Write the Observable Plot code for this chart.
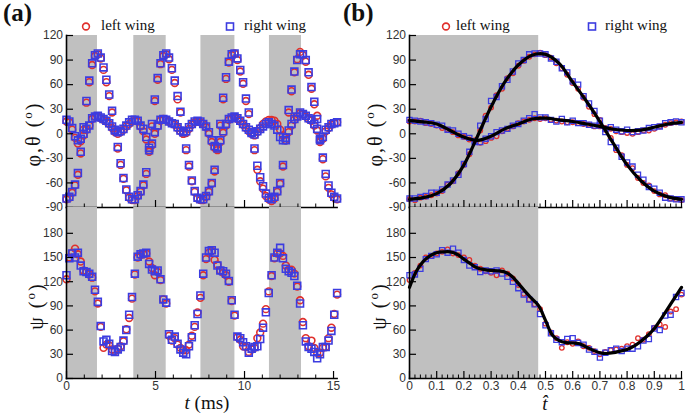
<!DOCTYPE html>
<html><head><meta charset="utf-8">
<script src="https://cdn.jsdelivr.net/npm/d3@7"></script>
<script src="https://cdn.jsdelivr.net/npm/@observablehq/plot@0.6"></script>
<style>
html,body{margin:0;padding:0;background:#fff;}
#fig{position:relative;width:685px;height:414px;overflow:hidden;font-family:"Liberation Serif","Times New Roman",serif;color:#111;}
.rot{position:absolute;white-space:nowrap;transform:translate(-50%,-50%) rotate(-90deg);font-size:20px;letter-spacing:2px;line-height:1;}
.lab{position:absolute;white-space:nowrap;transform:translate(-50%,-50%);font-size:19px;line-height:1;}
.pl{position:absolute;font-weight:bold;font-size:25px;}
.lg{position:absolute;font-size:15px;white-space:nowrap;}
sup{font-size:0.65em;}
</style></head><body><div id="fig"></div>
<script>
// ---------- data: panel (a), time in ms ----------
const tL = [0,0.16,0.32,0.48,0.64,0.8,0.96,1.12,1.28,1.44,1.6,1.76,1.92,2.08,2.24,2.4,2.56,2.72,2.88,3.04,3.2,3.36,3.52,3.68,
 3.84,4,4.16,4.32,4.48,4.64,4.8,4.96,5.12,5.28,5.44,5.6,5.76,5.92,6.08,6.24,6.4,6.56,6.72,6.88,7.04,7.2,7.36,7.52,
 7.68,7.84,8,8.16,8.32,8.48,8.64,8.8,8.96,9.12,9.28,9.44,9.6,9.76,9.92,10.08,10.24,10.4,10.56,10.72,10.88,11.04,11.2,11.36,
 11.52,11.68,11.84,12,12.16,12.32,12.48,12.64,12.8,12.96,13.12,13.28,13.44,13.6,13.76,13.92,14.08,14.24,14.4,14.56,14.72,14.88,15.04,15.2];
const phiLeftA = [-80,-78,-72,-63,-50,-24,5,38,63,84,95,97,92,78,63,46,26,3,-18,-38,-55,-69,-78,-81,
 -81,-76,-71,-63,-49,-22,9,40,66,85,95,97,91,78,62,42,26,0,-20,-40,-58,-71,-79,-81,
 -81,-77,-71,-61,-46,-20,10,42,67,87,96,98,90,76,61,40,24,0,-20,-44,-58,-67,-76,-80,
 -82,-79,-71,-61,-40,-8,26,52,75,91,100,96,88,72,55,36,22,-8,-31,-52,-66,-74,-78,-80];
const phiRightA = [-79,-77,-71,-62,-48,-22,8,40,65,86,96,98,93,81,66,48,28,5,-16,-36,-54,-68,-77,-80,
 -80,-75,-70,-62,-47,-20,12,42,68,86,96,98,93,80,65,46,27,3,-18,-38,-57,-70,-78,-80,
 -80,-76,-70,-60,-44,-18,12,44,69,88,97,98,92,78,63,43,26,2,-18,-39,-53,-64,-73,-78,
 -80,-77,-70,-60,-38,-5,29,54,76,90,97,97,90,75,57,39,18,-6,-29,-49,-63,-72,-77,-79];
const thetaLeftA = [15,14,5,-5,-12,-9,-2,5,10,18,21,21,19,17,15,12,7,2,0,2,5,9,12,15,
 16,15,9,3,-7,-20,-14,0,9,16,18,17,15,13,11,7,3,0,1,6,11,14,15,14,
 12,8,0,-10,-17,-18,-10,1,10,17,19,20,18,15,11,7,3,0,-2,2,7,12,15,17,
 17,16,12,5,-2,-8,2,10,17,21,25,24,21,18,16,10,4,-10,-6,3,7,11,13,14];
const thetaRightA = [17,15,7,-3,-8,-6,0,6,10,19,21,22,20,18,16,13,9,4,2,3,6,10,14,17,
 17,16,10,6,-4,-17,-12,2,10,17,18,17,15,13,12,8,4,2,3,8,12,15,16,15,
 12,9,2,-8,-15,-16,-8,3,12,18,20,21,19,16,12,8,5,1,-1,3,6,9,12,14,
 12,10,5,-4,-8,-8,4,12,18,21,26,24,22,19,17,12,6,-8,-4,5,8,12,13,14];
const psiLeftA = [123,150,156,161,154,145,134,132,129,125,108,93,64,38,42,41,36,34,37,40,46,61,75,99,
 129,150,153,154,155,145,137,128,132,122,98,93,53,47,50,42,38,35,35,42,53,64,82,100,
 128,148,156,158,147,141,134,131,128,120,96,78,51,48,40,39,33,36,38,50,57,68,86,108,
 127,149,155,155,152,140,135,135,130,114,97,70,50,40,47,38,32,32,38,39,50,63,80,104];
const psiRightA = [128,149,155,150,156,140,133,132,130,126,110,95,65,46,48,43,34,33,36,39,47,60,79,101,
 130,151,154,155,156,142,135,133,134,123,98,94,55,48,52,43,36,32,30,40,51,66,80,103,
 130,150,158,159,156,140,134,133,130,121,97,79,52,50,45,40,32,37,39,40,49,63,82,106,
 128,150,156,162,149,136,133,131,127,115,93,66,46,39,37,33,25,30,39,39,47,59,79,106];
const bandStartA = [0,3.78,7.55,11.4];
const bandEndA = [1.74,5.6,9.46,13.2];
const xTicksA = [0,5,10,15];
const xMinorA = [1,2,3,4,6,7,8,9,11,12,13,14];

// ---------- data: panel (b), normalized time ----------
const tB = [0,0.02,0.04,0.06,0.08,0.1,0.12,0.14,0.16,0.18,0.2,0.22,0.24,0.26,0.28,0.3,0.32,0.34,0.36,0.38,0.4,0.42,0.44,0.46,0.48,0.5,
 0.52,0.54,0.56,0.58,0.6,0.62,0.64,0.66,0.68,0.7,0.72,0.74,0.76,0.78,0.8,0.82,0.84,0.86,0.88,0.9,0.92,0.94,0.96,0.98,1];
const phiLeftB = [-80,-81,-78,-77,-75,-73,-70,-62,-58,-48,-38,-25,-8,4,22,32,47,55,68,74,83,89,94,97,99,96,93,86,80,72,62,55,44,33,24,17,5,-5,-20,-26,-38,-42,-54,-60,-63,-70,-74,-75,-79,-80,-81];
const phiRightB = [-79,-79,-77,-76,-72,-72,-68,-62,-57,-50,-37,-22,-10,10,18,40,45,58,66,76,86,90,97,98,98,97,92,88,80,75,64,60,46,37,28,16,2,-10,-17,-28,-35,-40,-50,-56,-65,-67,-72,-78,-79,-80,-80];
const thetaLeftB = [15,15,16,13,12,10,7,5,2,-2,-4,-7,-8,-11,-9,-5,-3,3,6,9,13,15,17,19,18,19,17,16,15,14,14,13,12,11,9,9,7,6,3,2,1,0,2,4,4,6,9,11,13,14,15];
const thetaRightB = [17,16,15,14,13,11,10,5,4,0,-3,-5,-9,-10,-6,-3,2,4,6,10,12,16,19,24,20,20,17,15,18,14,16,13,13,11,10,10,6,8,5,3,5,2,3,4,7,8,9,13,14,15,14];
const psiLeftB = [122,131,140,150,152,155,157,160,155,153,150,147,140,136,133,131,128,134,130,124,116,105,98,92,86,68,57,50,38,45,43,46,40,38,34,30,33,35,36,37,40,42,50,48,55,63,67,64,83,86,104];
const psiRightB = [128,129,136,148,152,154,159,156,161,156,147,140,138,132,134,133,134,130,126,120,112,104,98,92,80,66,56,48,45,49,50,44,42,36,33,26,32,35,37,34,37,37,40,47,49,62,60,78,79,101,106];
const tFit = [0,0.05,0.1,0.15,0.2,0.25,0.3,0.35,0.4,0.45,0.5,0.55,0.6,0.65,0.7,0.75,0.8,0.85,0.9,0.95,1];
const phiFit = [-80,-78,-73,-61,-38,-3,33,63,84,96,97,86,63,40,15,-12,-38,-57,-70,-77,-80];
const thetaFit = [16,14.5,12,4,-4,-8,-3,6,12,18,19,17,15,12,9,5.5,4,4.5,8,12,14];
const tFitPsi = [0,0.025,0.05,0.075,0.1,0.125,0.15,0.175,0.2,0.225,0.25,0.275,0.3,0.325,0.35,0.375,0.4,0.425,0.45,0.475,0.5,
 0.525,0.55,0.575,0.6,0.625,0.65,0.675,0.7,0.725,0.75,0.775,0.8,0.825,0.85,0.875,0.9,0.925,0.95,0.975,1];
const psiFit = [113,133,145,152,156,157,157,154,148,142,137,135,134,133.5,132,127,118,108,99,90,72,54,47,44.5,44,43,39,35,32,31,32,34,36,40,46,53,62,74,87,100,113];
const bandStartB = [0];
const bandEndB = [0.475];
const xTicksB = [0,0.1,0.2,0.3,0.4,0.5,0.6,0.7,0.8,0.9,1];
const xMinorB = [0.02,0.04,0.06,0.08,0.12,0.14,0.16,0.18,0.22,0.24,0.26,0.28,0.32,0.34,0.36,0.38,0.42,0.44,0.46,0.48,
 0.52,0.54,0.56,0.58,0.62,0.64,0.66,0.68,0.72,0.74,0.76,0.78,0.82,0.84,0.86,0.88,0.92,0.94,0.96,0.98];
const yTicksTop = [-90,-60,-30,0,30,60,90,120];
const yTicksBottom = [0,30,60,90,120,150,180];

// ---------- drawing ----------
const RED = "#e0302c", BLUE = "#3c3ce0";
const fig = document.getElementById("fig");
const pts = (xs, ...ys) => ys.flatMap(arr => arr.map((v, i) => ({x: xs[i], y: v})));
const bandsOf = (s, e) => s.map((v, i) => ({start: v, end: e[i]}));

function panel(o) {
  const marks = [
    Plot.rect(o.bands, {x1: "start", x2: "end", fill: "#c0c0c0"}),
    Plot.dot(o.red, {x: "x", y: "y", symbol: "circle", r: o.rc, stroke: RED, fill: "none", strokeWidth: o.sw}),
    Plot.dot(o.blue, {x: "x", y: "y", symbol: "square", r: o.rs, stroke: BLUE, fill: "none", strokeWidth: o.sw}),
    ...(o.fits || []).map(f => Plot.line(f, {x: "x", y: "y", stroke: "#000", strokeWidth: 3.2, curve: "catmull-rom"})),
    Plot.frame({anchor: "left", stroke: "#000", strokeWidth: 1.6}),
    Plot.frame({anchor: "bottom", stroke: "#000", strokeWidth: 1.6}),
    Plot.axisY(o.yTicks, {anchor: "left", tickSize: -7, tickPadding: 10.5, stroke: "#000", strokeWidth: 1.2, fill: "#333", fontSize: 12, tickFormat: d => String(d)}),
    Plot.axisX(o.xTicks, {anchor: "bottom", tickSize: -7, tickPadding: 10, stroke: "#000", strokeWidth: 1.2, fill: "#333", fontSize: 12, tickFormat: o.xFmt}),
    Plot.axisX(o.xMinor, {anchor: "bottom", tickSize: -3.5, stroke: "#000", strokeWidth: 1, tickFormat: () => ""})
  ];
  const svg = Plot.plot({
    width: o.width, height: o.height,
    marginLeft: o.mL, marginRight: o.mR, marginTop: o.mT, marginBottom: o.mB,
    x: {domain: o.xDomain, label: null},
    y: {domain: o.yDomain, label: null},
    style: {fontFamily: "'Liberation Sans', Arial, sans-serif", fontSize: "12px", background: "transparent", overflow: "visible"},
    marks
  });
  svg.style.position = "absolute";
  svg.style.left = o.left + "px";
  svg.style.top = o.top + "px";
  fig.appendChild(svg);
}

const noLab = () => "";
const fmtB = d => (d === 0 || d === 1) ? String(d) : d.toFixed(1);
const fitPts = [pts(tFit, phiFit), pts(tFit, thetaFit)];

// (a) top
panel({left: 0, top: 0, width: 345, height: 212, mL: 66, mR: 8.4, mT: 35, mB: 5,
  xDomain: [0, 15.2], yDomain: [-90, 120], bands: bandsOf(bandStartA, bandEndA),
  red: pts(tL, phiLeftA, thetaLeftA), blue: pts(tL, phiRightA, thetaRightA),
  rc: 3.4, rs: 3.9, sw: 1.6, yTicks: yTicksTop, xTicks: xTicksA, xMinor: xMinorA, xFmt: noLab});
// (a) bottom
panel({left: 0, top: 207, width: 345, height: 207, mL: 66, mR: 8.4, mT: 0, mB: 36,
  xDomain: [0, 15.2], yDomain: [0, 212], bands: bandsOf(bandStartA, bandEndA),
  red: pts(tL, psiLeftA), blue: pts(tL, psiRightA),
  rc: 3.4, rs: 3.9, sw: 1.6, yTicks: yTicksBottom, xTicks: xTicksA, xMinor: xMinorA, xFmt: d => String(d)});
// (b) top
panel({left: 345, top: 0, width: 340, height: 212, mL: 64, mR: 4, mT: 35, mB: 5,
  xDomain: [0, 1], yDomain: [-90, 120], bands: bandsOf(bandStartB, bandEndB),
  red: pts(tB, phiLeftB, thetaLeftB), blue: pts(tB, phiRightB, thetaRightB), fits: fitPts,
  rc: 2.3, rs: 2.9, sw: 1.3, yTicks: yTicksTop, xTicks: xTicksB, xMinor: xMinorB, xFmt: noLab});
// (b) bottom
panel({left: 345, top: 207, width: 340, height: 207, mL: 64, mR: 4, mT: 0, mB: 36,
  xDomain: [0, 1], yDomain: [0, 212], bands: bandsOf(bandStartB, bandEndB),
  red: pts(tB, psiLeftB), blue: pts(tB, psiRightB), fits: [pts(tFitPsi, psiFit)],
  rc: 2.3, rs: 2.9, sw: 1.3, yTicks: yTicksBottom, xTicks: xTicksB, xMinor: xMinorB, xFmt: fmtB});

// ---------- text ----------
function addHTML(html) { fig.insertAdjacentHTML("beforeend", html); }
addHTML(`<div class="pl" style="left:3px;top:-1px">(a)</div>`);
addHTML(`<div class="pl" style="left:343px;top:-1px">(b)</div>`);
addHTML(`<div class="rot" style="left:32px;top:134px">φ,θ (<sup>o</sup>)</div>`);
addHTML(`<div class="rot" style="left:35px;top:306px">ψ (<sup>o</sup>)</div>`);
addHTML(`<div class="rot" style="left:374px;top:134px">φ,θ (<sup>o</sup>)</div>`);
addHTML(`<div class="rot" style="left:378px;top:306px">ψ (<sup>o</sup>)</div>`);
addHTML(`<div class="lab" style="left:207px;top:402px"><i>t</i> (ms)</div>`);
addHTML(`<div class="lab" style="left:545px;top:403px"><i>t̂</i></div>`);
// legends
const legendSvg = `<svg width="685" height="40" style="position:absolute;left:0;top:0" xmlns="http://www.w3.org/2000/svg">
 <circle cx="86" cy="26.5" r="3.4" fill="none" stroke="${RED}" stroke-width="1.6"/>
 <rect x="226.5" y="23" width="7" height="7" fill="none" stroke="${BLUE}" stroke-width="1.6"/>
 <circle cx="446" cy="26.5" r="3.4" fill="none" stroke="${RED}" stroke-width="1.6"/>
 <rect x="588.5" y="23" width="7" height="7" fill="none" stroke="${BLUE}" stroke-width="1.6"/>
</svg>`;
addHTML(legendSvg);
addHTML(`<div class="lg" style="left:101px;top:17px">left wing</div>`);
addHTML(`<div class="lg" style="left:244px;top:17px">right wing</div>`);
addHTML(`<div class="lg" style="left:456px;top:17px">left wing</div>`);
addHTML(`<div class="lg" style="left:605px;top:17px">right wing</div>`);
</script></body></html>
